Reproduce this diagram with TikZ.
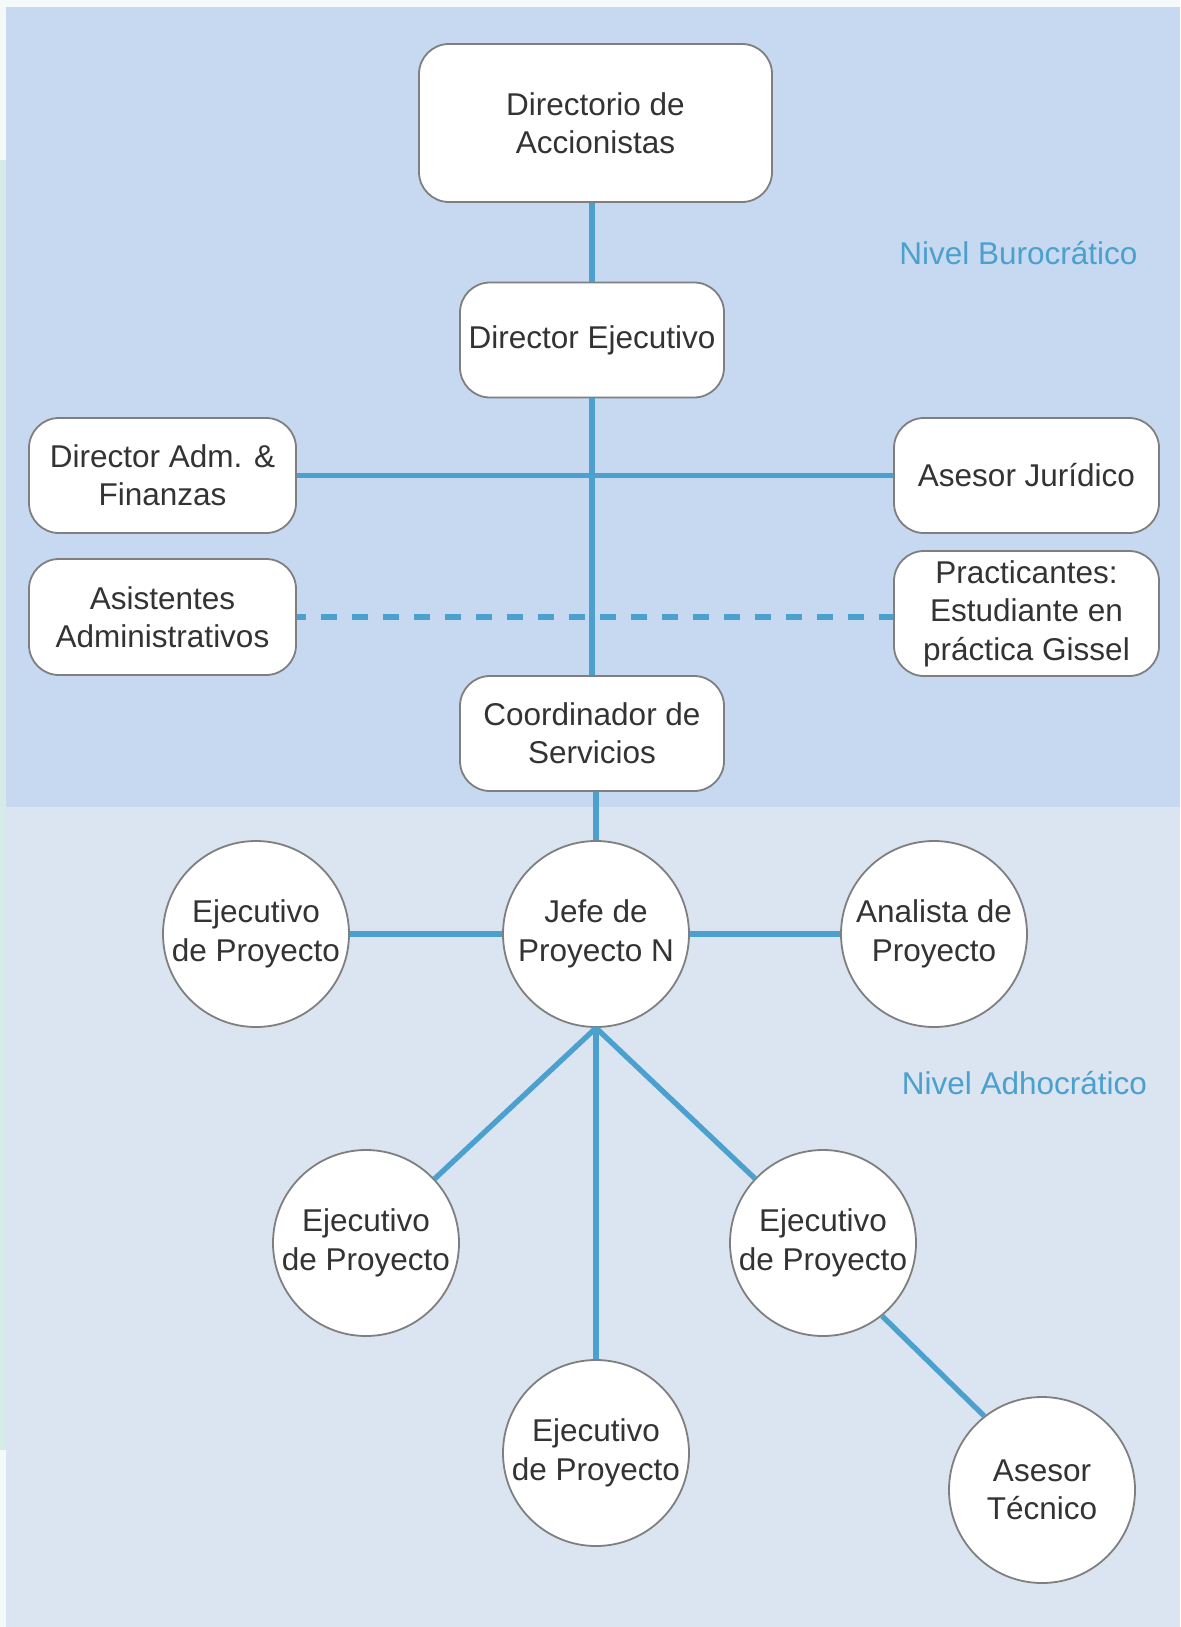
\documentclass[tikz,border=0pt]{standalone}
\usepackage{fontspec}
\setmainfont{Liberation Sans}
\definecolor{outerbg}{HTML}{F4F9F9}
\definecolor{outerstrip}{HTML}{D6EAE8}
\definecolor{panelup}{HTML}{C6D9F0}
\definecolor{panellow}{HTML}{DBE5F1}
\definecolor{nodegray}{HTML}{7F7F7F}
\definecolor{txtgray}{HTML}{333333}
\definecolor{lineblue}{HTML}{4BA0CE}
\newcommand\orgfont{\fontsize{15.75pt}{19.2pt}\selectfont}
\begin{document}
\begin{tikzpicture}[x=0.5pt,y=-0.5pt,
  box/.style={rectangle, draw=nodegray, line width=0.9pt, fill=white, rounded corners=15pt,
    align=center, text=txtgray, font=\orgfont, inner sep=0pt},
  circ/.style={circle, draw=nodegray, line width=0.9pt, fill=white, minimum size=93pt,
    inner sep=0pt, align=center, text=txtgray, font=\orgfont},
  conn/.style={draw=lineblue, line width=2.65pt},
  lvl/.style={text=lineblue, font=\orgfont, anchor=base, inner sep=0pt}]
\useasboundingbox (0,0) rectangle (1180,1627);
% backgrounds
\fill[outerbg] (0,0) rectangle (1180,1627);
\fill[outerstrip] (0,160) rectangle (6,1450);
\fill[panelup] (6,7) rectangle (1180,807);
\fill[panellow] (6,807) rectangle (1180,1627);
% bureaucratic level
\node[box, minimum width=176.5pt, minimum height=79pt] (dir) at (595.5,123) {Directorio de\\Accionistas};
\node[box, minimum width=132pt, minimum height=57.5pt] (dej) at (592,340) {Director Ejecutivo};
\node[box, minimum width=133.5pt, minimum height=57.5pt] (daf) at (162.5,475.5) {Director Adm. \&\\Finanzas};
\node[box, minimum width=132.5pt, minimum height=57.5pt] (aj) at (1026.5,475.5) {Asesor Jurídico};
\node[box, minimum width=133.5pt, minimum height=58pt] (asis) at (162.5,617) {Asistentes\\Administrativos};
\node[box, minimum width=132.5pt, minimum height=62.5pt] (prac) at (1026.5,613.5) {Practicantes:\\Estudiante en\\práctica Gissel};
\node[box, minimum width=132pt, minimum height=57.5pt] (coord) at (592,733.5) {Coordinador de\\Servicios};
% adhocratic level
\node[circ] (jefe) at (596,934) {Jefe de\\Proyecto N};
\node[circ] (ejl) at (256,934) {Ejecutivo\\de Proyecto};
\node[circ] (ana) at (934,934) {Analista de\\Proyecto};
\node[circ] (ej1) at (366,1243) {Ejecutivo\\de Proyecto};
\node[circ] (ej2) at (596,1453) {Ejecutivo\\de Proyecto};
\node[circ] (ej3) at (823,1243) {Ejecutivo\\de Proyecto};
\node[circ] (at) at (1042,1490) {Asesor\\Técnico};
% level labels
\node[lvl] (lvlb) at (1018.5,264) {Nivel Burocrático};
\node[lvl] (lvla) at (1024.5,1094) {Nivel Adhocrático};
% connectors
\draw[conn] (dej.north) -- (dej.north |- dir.south);
\draw[conn] (dej.south) -- (coord.north);
\draw[conn] (daf.east) -- (aj.west);
\draw[conn, dash pattern=on 7.8pt off 7.7pt, dash phase=3.5pt] (asis.east) -- (asis.east -| prac.west);
\draw[conn] (jefe.north) -- (jefe.north |- coord.south);
\draw[conn] (ejl.east) -- (jefe.west);
\draw[conn] (jefe.east) -- (ana.west);
\draw[conn] (jefe.south) -- (ej1);
\draw[conn] (jefe.south) -- (ej2.north);
\draw[conn] (jefe.south) -- (ej3);
\draw[conn] (ej3.-51) -- (at.128.5);
\end{tikzpicture}
\end{document}
